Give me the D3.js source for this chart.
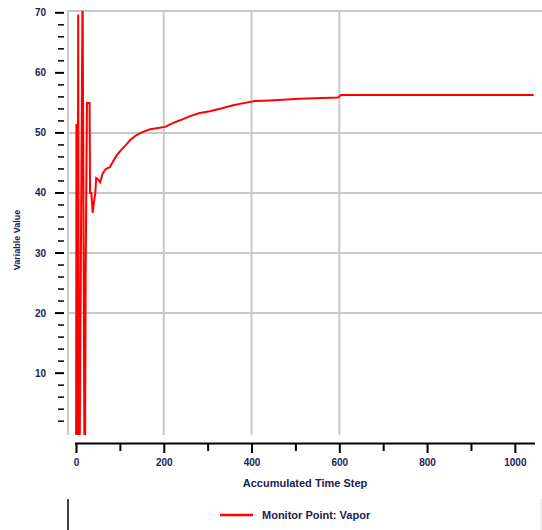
<!DOCTYPE html>
<html>
<head>
<meta charset="utf-8">
<script src="https://cdn.jsdelivr.net/npm/d3@7"></script>
<style>
  body { margin: 0; background: #fff; }
  text { font-family: "Liberation Sans", Arial, sans-serif; }
</style>
</head>
<body>
<script>
// monitor data (values below 0 are clipped by the plot)
var steps = [0, 1, 3, 5, 7, 15, 20, 22, 25, 31, 32, 35, 38, 41, 44, 46, 50, 55, 61, 68, 77, 84, 93,
  102, 114, 123, 137, 150, 169, 187, 203, 219, 237, 260, 282, 305, 333, 358, 385, 408, 442, 510, 597, 604, 1043];
var values = [-20, 51.5, -20, 69.7, -20, 75, -20, 26.7, 55, 55, 40, 40, 36.7, 38.5, 40, 42.5, 42.3, 41.8, 43.3, 44, 44.3, 45.2, 46.3,
  47.1, 48, 48.8, 49.6, 50.1, 50.6, 50.8, 51, 51.6, 52.1, 52.8, 53.3, 53.6, 54.1, 54.6, 55, 55.3, 55.4, 55.7, 55.9, 56.3, 56.3];

var xTicks = [0, 200, 400, 600, 800, 1000];
var yTicks = [10, 20, 30, 40, 50, 60, 70];
var xGrid = [200, 400, 600];
var yGrid = [20, 30, 40, 50];
var seriesName = "Monitor Point: Vapor";

var W = 542, H = 530;
var plot = {left: 68, top: 11, right: 545, bottom: 435};

var svg = d3.select("body").append("svg")
  .attr("width", W)
  .attr("height", H);

var x = d3.scaleLinear().domain([0, 600]).range([76, 339.3]);
var y = d3.scaleLinear().domain([-0.3, 70.3]).range([plot.bottom, plot.top]);

var grey = "#c8c8c8";
var ink = "#22224f";

// grid
svg.selectAll(".vg").data(xGrid).enter().append("line")
  .attr("x1", d => x(d)).attr("x2", d => x(d))
  .attr("y1", plot.top).attr("y2", plot.bottom)
  .attr("stroke", grey).attr("stroke-width", 2);
svg.selectAll(".hg").data(yGrid).enter().append("line")
  .attr("x1", plot.left).attr("x2", plot.right)
  .attr("y1", d => y(d)).attr("y2", d => y(d))
  .attr("stroke", grey).attr("stroke-width", 2);

// plot border (top + left)
svg.append("path")
  .attr("d", "M" + plot.left + "," + plot.bottom + "V" + plot.top + "H" + plot.right)
  .attr("fill", "none").attr("stroke", grey).attr("stroke-width", 2);

svg.append("clipPath").attr("id", "clip").append("rect")
  .attr("x", plot.left).attr("y", plot.top)
  .attr("width", plot.right - plot.left).attr("height", plot.bottom - plot.top);

var line = d3.line()
  .x(function(d, i) { return x(steps[i]); })
  .y(function(d) { return y(d); });

svg.append("path")
  .datum(values)
  .attr("clip-path", "url(#clip)")
  .attr("fill", "none")
  .attr("stroke", "#ff0000")
  .attr("stroke-width", 2)
  .attr("d", line);

// x axis, detached below the plot
var xAxis = d3.axisBottom(x)
  .tickValues(d3.range(0, 1001, 100))
  .tickSize(9)
  .tickFormat(d => xTicks.indexOf(d) >= 0 ? d : "");
var gx = svg.append("g")
  .attr("transform", "translate(0,443)")
  .call(xAxis);
gx.select(".domain").attr("d", "M75,0.5H535").attr("stroke", "#000").attr("stroke-width", 2);
gx.selectAll(".tick line").attr("stroke", "#000").attr("stroke-width", 2)
  .attr("y2", d => xTicks.indexOf(d) >= 0 ? 10 : 8);
gx.selectAll(".tick text").attr("fill", ink).attr("font-size", 10).attr("font-weight", "bold").attr("dy", "1.1em");

svg.append("text")
  .attr("x", 305).attr("y", 487)
  .attr("text-anchor", "middle")
  .attr("font-size", 11).attr("font-weight", "bold")
  .attr("fill", ink)
  .text("Accumulated Time Step");

// y axis: ticks only
var gy = svg.append("g").attr("transform", "translate(64,0)");
gy.selectAll(".minor").data(d3.range(2, 71, 2).filter(d => d % 10 !== 0)).enter().append("line")
  .attr("x1", -6).attr("x2", 0)
  .attr("y1", d => y(d)).attr("y2", d => y(d))
  .attr("stroke", "#000").attr("stroke-width", 1.5);
gy.selectAll(".major").data(yTicks).enter().append("line")
  .attr("x1", -9).attr("x2", 0)
  .attr("y1", d => y(d)).attr("y2", d => y(d))
  .attr("stroke", "#000").attr("stroke-width", 2);
gy.selectAll("text").data(yTicks).enter().append("text")
  .attr("x", -18).attr("y", d => y(d)).attr("dy", "0.35em")
  .attr("text-anchor", "end")
  .attr("font-size", 10).attr("font-weight", "bold")
  .attr("fill", ink)
  .text(d => d);

svg.append("text")
  .attr("transform", "translate(20,240) rotate(-90)")
  .attr("text-anchor", "middle")
  .attr("font-size", 9).attr("font-weight", "bold")
  .attr("fill", ink)
  .text("Variable Value");

// legend
svg.append("line").attr("x1", 68).attr("x2", 68).attr("y1", 499).attr("y2", 530)
  .attr("stroke", "#000").attr("stroke-width", 1.5);
svg.append("line").attr("x1", 541).attr("x2", 541).attr("y1", 499).attr("y2", 530)
  .attr("stroke", "#ddd").attr("stroke-width", 1);
svg.append("line").attr("x1", 220).attr("x2", 253).attr("y1", 515).attr("y2", 515)
  .attr("stroke", "#ff0000").attr("stroke-width", 2.5);
svg.append("text")
  .attr("x", 262).attr("y", 515).attr("dy", "0.35em")
  .attr("font-size", 11).attr("font-weight", "bold")
  .attr("fill", ink)
  .text(seriesName);
</script>
</body>
</html>
